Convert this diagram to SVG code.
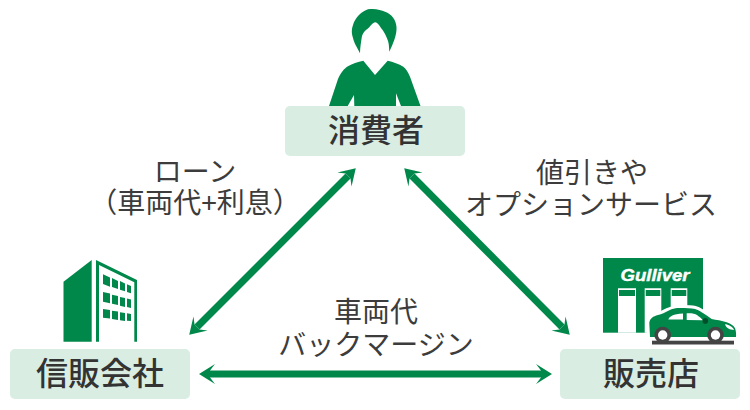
<svg xmlns="http://www.w3.org/2000/svg" width="750" height="410" viewBox="0 0 750 410">
<style>
.box{fill:#d9ede2}
.g{fill:#00884a}
.w{fill:#fff}
.nl{font:500 32px "Noto Sans CJK JP",sans-serif;fill:#333;text-anchor:middle}
.el{font:400 28px "Noto Sans CJK JP",sans-serif;fill:#3c3c3c;text-anchor:middle}
.c{fill:none;stroke:#00884a;stroke-width:7;marker-start:url(#ah);marker-end:url(#ah)}
</style>
<defs>
<marker id="ah" markerUnits="userSpaceOnUse" markerWidth="20" markerHeight="22" viewBox="-17 -11 19 22" refX="-11" refY="0" orient="auto-start-reverse">
<path d="M0 0L-16 -10L-11 -3.500V3.500L-16 10Z" fill="#00884a"/>
</marker>
</defs>
<rect width="750" height="410" fill="#fff"/>
<g id="connectors">
<line class="c" x1="197" y1="327" x2="348" y2="176"/>
<line class="c" x1="412" y1="176" x2="562" y2="327"/>
<line class="c" x1="210" y1="374" x2="541" y2="374"/>
</g>
<g id="consumer">
<path class="g" d="M360 53.300C357 47 354 43 353 38C351 32 352 28 353 25C355 18 362 11 368 9.300C375 8 381 10 385 11.700C392 14 396 20 396.500 27C397 35 393 44 389.300 51.700C389 47 389 44 388 41C386 35 383 30 381 28C379 25 377 22 375 22.300C372 23 370 27 368 28.500C365 30 363 33 362 36C361 42 360 48 360 53.300Z"/>
<path class="g" d="M329 106L338 79C341 72 344 69 347 66.700C352 63.500 358 62 363.300 60.700L375 75L387.700 60.700C393 62 399 64 403.300 66.700C406 69 408 72 410 76.700L420.500 106H401L396 93.300V106H354.300L354 95L347.700 106Z"/>
<rect class="box" x="285" y="106" width="180" height="50" rx="5"/>
<text class="nl" x="376" y="142">消費者</text>
</g>
<g id="company">
<path class="g" d="M63.500 281.700L91.700 260V341.700H63.500Z"/>
<path class="g" d="M96 260L137 280V341.700H134.300V282.300L99 265V341.700H96Z"/>
<path class="g" d="M103 274.300L110 277.500V286.700L103 284ZM112 278L118 281V289L112 287ZM120 281L125 283.500V291.300L120 289.700ZM127 284.300L131 286V293.300L127 292Z"/>
<path class="g" d="M103 292L110 293.500V303.300L103 301.700ZM112 294.700L118 296V305L112 303.700ZM120 297L125 298V307L120 305.700ZM127 298.500L131 299.500V308L127 307Z"/>
<path class="g" d="M103 309L110 310V318.500L103 317.700ZM112 310.700L118 311.500V320L112 319ZM120 312.300L125 313V321L120 320.300ZM127 313.300L131 314V321L127 320.700Z"/>
<rect class="box" x="10" y="349" width="180" height="50" rx="5"/>
<text class="nl" x="100" y="385">信販会社</text>
</g>
<g id="dealer">
<rect class="g" x="603" y="258" width="100" height="74.700"/>
<text x="655" y="280.500" font-family="Liberation Sans,sans-serif" font-size="17" font-weight="700" font-style="italic" fill="#fff" stroke="#fff" stroke-width=".4" text-anchor="middle" textLength="69" lengthAdjust="spacingAndGlyphs">Gulliver</text>
<path class="w" d="M618 288.300H636V332.700H618ZM644.700 288.300H661.300V332.700H644.700ZM670.700 288.300H687.300V332.700H670.700Z"/>
<path class="g" d="M619 290H635V296H619ZM645.700 290H660.300V296H645.700ZM671.700 290H686.300V296H671.700Z"/>
<path class="w" stroke="#fff" stroke-width="6" stroke-linejoin="round" d="M650 337L649.300 323C650 318 653 316.500 658 315C662 314 665 312.500 668.300 310.700C673 308.500 676 308 680 308C686 308 691 308 695 309C699 310 701 312 703.300 313.300C706 315 709 317 711.700 319C716 320 722 320.500 726.700 322.300C731 324 734 326 735 328.300C736 331 736.300 334 736 337Z"/>
<rect x="652" y="340.700" width="82" height="3.800" fill="#444"/>
<path class="g" d="M650 337L649.300 323C650 318 653 316.500 658 315C662 314 665 312.500 668.300 310.700C673 308.500 676 308 680 308C686 308 691 308 695 309C699 310 701 312 703.300 313.300C706 315 709 317 711.700 319C716 320 722 320.500 726.700 322.300C731 324 734 326 735 328.300C736 331 736.300 334 736 337Z"/>
<path class="w" d="M668.300 319.500C669.500 316.500 673 314 683 313.500V319.500ZM686.700 313.300C691 313 695 313.500 697 315C699 316.500 701 318 703 320.300L686.700 320Z"/>
<path class="w" d="M725 324.300C728 324.300 733 327 734 330C730 330 726 328 725 324.300Z"/>
<circle cx="705.300" cy="320.900" r="2.800" fill="#004f2b"/>
<circle cx="662.700" cy="335" r="8.300" fill="#444"/><circle cx="662.700" cy="335" r="4.700" fill="#fff"/>
<circle cx="715.500" cy="335" r="8.300" fill="#444"/><circle cx="715.500" cy="335" r="4.700" fill="#fff"/>
<rect class="box" x="560" y="349" width="180" height="50" rx="5"/>
<text class="nl" x="651" y="385">販売店</text>
</g>
<g id="edge-labels">
<text class="el" x="195" y="182">ローン</text>
<text class="el" x="195" y="213">（車両代+利息）</text>
<text class="el" x="592" y="183">値引きや</text>
<text class="el" x="591" y="215">オプションサービス</text>
<text class="el" x="376" y="322">車両代</text>
<text class="el" x="376" y="355">バックマージン</text>
</g>
</svg>
